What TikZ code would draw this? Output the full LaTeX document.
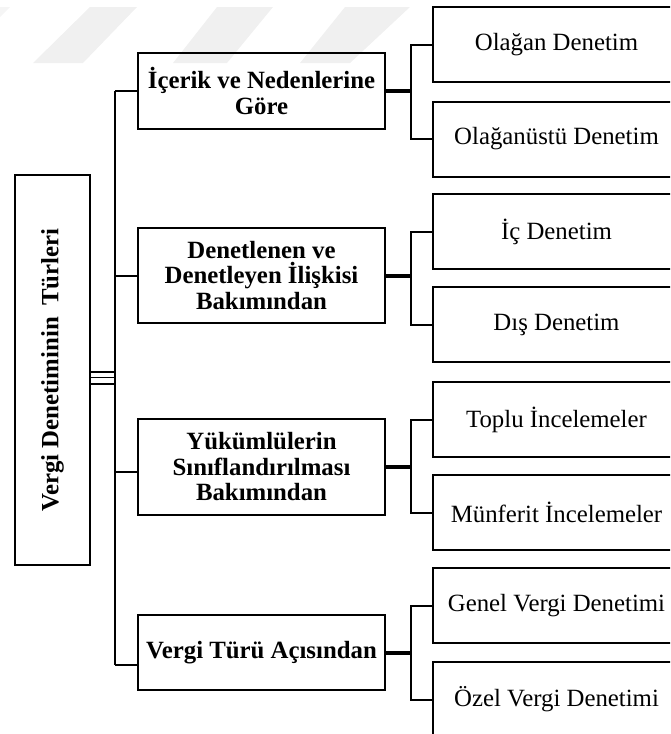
\documentclass[tikz,border=0pt]{standalone}
\usepackage{fontspec}
\setmainfont{Liberation Serif}
\begin{document}
\begin{tikzpicture}[x=1pt,y=-1pt,
  box/.style={draw=black,line width=2pt,rectangle,inner sep=2pt,align=center},
  lvl/.style={box,minimum width=247pt,font=\fontsize{24.8}{25.5}\selectfont\bfseries},
  leaf/.style={box,minimum width=247pt,minimum height=75pt,font=\fontsize{24.8}{25.5}\selectfont},
  conn/.style={line width=2pt},
  thick conn/.style={line width=4pt},
  wm/.style={fill=black!6,draw=none}]
\useasboundingbox (0,0) rectangle (670,734);
\clip (0,0) rectangle (670,734);
% watermark
\fill[wm] (33,63) -- (83,63) -- (137,7) -- (90,7) -- cycle;
\fill[wm] (173,63) -- (227,63) -- (273,7) -- (217,7) -- cycle;
\fill[wm] (300,63) -- (350,63) -- (410,7) -- (345,7) -- cycle;
\fill[black!4] (0,7) -- (10,7) -- (0,17) -- cycle;
% root
\node[box,minimum width=75pt,minimum height=390pt] (root) at (52.5,370) {};
\node[rotate=90,font=\fontsize{24.8}{25.5}\selectfont\bfseries] (roottext) at (root.center) {Vergi Denetiminin\hspace{0.2em} Türleri};
% level 1
\node[lvl,minimum height=76pt] (b1) at (261.5,91) {İçerik ve Nedenlerine\\Göre};
\node[lvl,minimum height=95pt] (b2) at (261.5,275.5) {Denetlenen ve\\Denetleyen İlişkisi\\Bakımından};
\node[lvl,minimum height=96pt] (b3) at (261.5,467) {Yükümlülerin\\Sınıflandırılması\\Bakımından};
\node[lvl,minimum height=75pt] (b4) at (261.5,652.5) {Vergi Türü Açısından};
% leaves
\node[leaf] (c1) at (556.5,44.5) {Olağan Denetim};
\node[leaf] (c2) at (556.5,139) {Olağanüstü Denetim};
\node[leaf] (c3) at (556.5,231.5) {İç Denetim};
\node[leaf] (c4) at (556.5,324.5) {Dış Denetim};
\node[leaf] (c5) at (556.5,419.5) {Toplu İncelemeler};
\node[leaf] (c6) at (556.5,512.5) {Münferit İncelemeler};
\node[leaf] (c7) at (556.5,605.5) {Genel Vergi Denetimi};
\node[leaf] (c8) at (556.5,699.5) {Özel Vergi Denetimi};
% trunk
\coordinate (t1) at (115,91);
\coordinate (t2) at (115,276);
\coordinate (t3) at (115,472);
\coordinate (t4) at (115,665);
\draw[conn] (t1) -- (t4);
\draw[conn] (t1) -- (t1 -| b1.west);
\draw[conn] (t2) -- (t2 -| b2.west);
\draw[conn] (t3) -- (t3 -| b3.west);
\draw[conn] (t4) -- (t4 -| b4.west);
% root to trunk triple line
\coordinate (r1) at (115,372);
\coordinate (r2) at (115,377.5);
\coordinate (r3) at (115,384);
\draw[line width=1.6pt] (r1 -| root.east) -- (r1);
\draw[line width=1.6pt] (r2 -| root.east) -- (r2);
\draw[line width=1.6pt] (r3 -| root.east) -- (r3);
% forks
\foreach \b/\u/\l in {b1/c1/c2,b2/c3/c4,b3/c5/c6,b4/c7/c8}{
  \coordinate (f\b) at ([xshift=25pt]\b.east);
  \draw[thick conn] (\b.east) -- (f\b);
  \draw[conn] (\u.west) -| (f\b) |- (\l.west);
}
\end{tikzpicture}
\end{document}
